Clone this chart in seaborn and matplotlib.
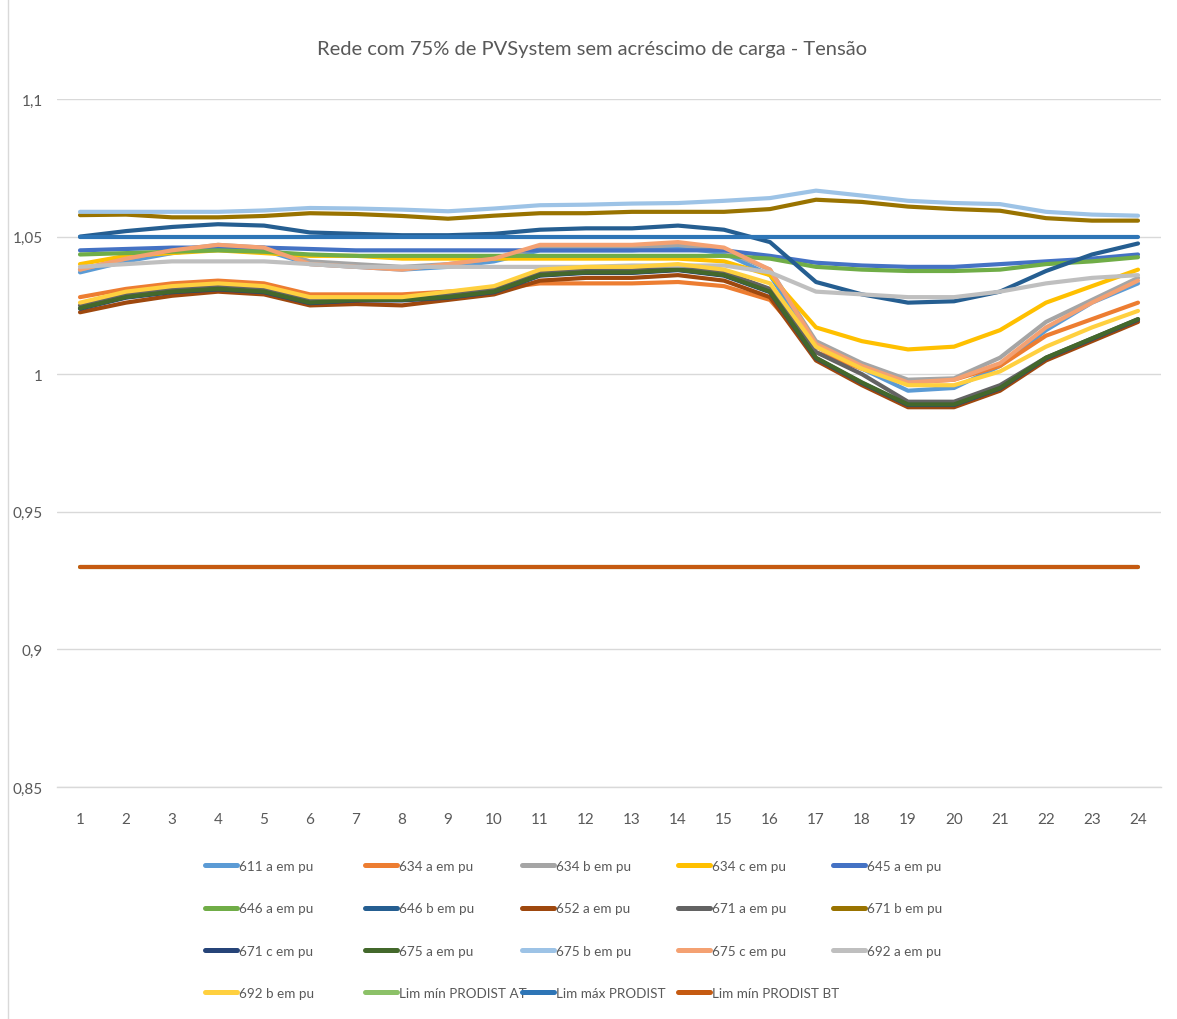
import numpy as np
import pandas as pd
import matplotlib
matplotlib.use("Agg")
import matplotlib.pyplot as plt
from matplotlib.lines import Line2D
import seaborn as sns

hours = list(range(1, 25))

s611a = [1.037, 1.041, 1.044, 1.046, 1.045, 1.040, 1.039, 1.038, 1.039, 1.041, 1.045, 1.045, 1.045, 1.046, 1.044, 1.036, 1.010, 1.002, 0.994, 0.995, 1.003, 1.016, 1.026, 1.033]
s634a = [1.028, 1.031, 1.033, 1.034, 1.033, 1.029, 1.029, 1.029, 1.030, 1.031, 1.033, 1.033, 1.033, 1.0335, 1.032, 1.027, 1.008, 1.002, 0.997, 0.998, 1.003, 1.014, 1.020, 1.026]
s634b = [1.038, 1.042, 1.045, 1.047, 1.046, 1.041, 1.040, 1.039, 1.040, 1.042, 1.046, 1.046, 1.046, 1.047, 1.045, 1.038, 1.012, 1.004, 0.998, 0.9985, 1.006, 1.019, 1.027, 1.035]
s634c = [1.040, 1.043, 1.044, 1.045, 1.044, 1.043, 1.043, 1.042, 1.042, 1.042, 1.042, 1.042, 1.042, 1.042, 1.041, 1.036, 1.017, 1.012, 1.009, 1.010, 1.016, 1.026, 1.032, 1.038]
s645a = [1.045, 1.0455, 1.046, 1.046, 1.046, 1.0455, 1.045, 1.045, 1.045, 1.045, 1.045, 1.045, 1.045, 1.045, 1.045, 1.043, 1.0405, 1.0395, 1.039, 1.039, 1.040, 1.041, 1.042, 1.0435]
s646a = [1.0435, 1.044, 1.0445, 1.045, 1.0445, 1.0435, 1.043, 1.043, 1.043, 1.043, 1.043, 1.043, 1.043, 1.043, 1.043, 1.042, 1.039, 1.038, 1.0375, 1.0375, 1.038, 1.040, 1.041, 1.0425]
s646b = [1.050, 1.052, 1.0535, 1.0545, 1.054, 1.0515, 1.051, 1.0505, 1.0505, 1.051, 1.0525, 1.053, 1.053, 1.054, 1.0525, 1.048, 1.0335, 1.029, 1.026, 1.0265, 1.030, 1.0375, 1.0435, 1.0475]
s652a = [1.0225, 1.026, 1.0285, 1.030, 1.029, 1.025, 1.0255, 1.025, 1.027, 1.029, 1.034, 1.035, 1.035, 1.036, 1.034, 1.028, 1.005, 0.996, 0.988, 0.988, 0.994, 1.005, 1.012, 1.019]
s671a = [1.025, 1.029, 1.031, 1.032, 1.031, 1.027, 1.027, 1.027, 1.029, 1.031, 1.037, 1.038, 1.038, 1.039, 1.037, 1.031, 1.008, 1.000, 0.990, 0.990, 0.996, 1.006, 1.013, 1.020]
s671b = [1.0578, 1.058, 1.057, 1.057, 1.0575, 1.0585, 1.0582, 1.0575, 1.0565, 1.0576, 1.0585, 1.0585, 1.059, 1.059, 1.059, 1.060, 1.0634, 1.0626, 1.0609, 1.060, 1.0594, 1.0567, 1.0558, 1.0558]
s671c = [1.0238, 1.0278, 1.0298, 1.0308, 1.0298, 1.0258, 1.0268, 1.0268, 1.0278, 1.0298, 1.0358, 1.0368, 1.0368, 1.0378, 1.0358, 1.0298, 1.0058, 0.9968, 0.9888, 0.9888, 0.9948, 1.0058, 1.0128, 1.0198]
s675a = [1.024, 1.028, 1.030, 1.031, 1.030, 1.026, 1.027, 1.027, 1.028, 1.030, 1.036, 1.037, 1.037, 1.038, 1.036, 1.030, 1.006, 0.997, 0.989, 0.989, 0.995, 1.006, 1.013, 1.020]
s675b = [1.059, 1.059, 1.059, 1.059, 1.0595, 1.0604, 1.0602, 1.0598, 1.0592, 1.0602, 1.0614, 1.0616, 1.062, 1.0622, 1.063, 1.064, 1.0667, 1.0649, 1.063, 1.0622, 1.0618, 1.059, 1.058, 1.0576]
s675c = [1.038, 1.042, 1.045, 1.047, 1.046, 1.040, 1.039, 1.038, 1.040, 1.042, 1.047, 1.047, 1.047, 1.048, 1.046, 1.038, 1.011, 1.003, 0.997, 0.998, 1.004, 1.017, 1.026, 1.034]
s692a = [1.039, 1.040, 1.041, 1.041, 1.041, 1.040, 1.039, 1.039, 1.039, 1.039, 1.039, 1.039, 1.0395, 1.0395, 1.0395, 1.037, 1.030, 1.029, 1.028, 1.028, 1.030, 1.033, 1.035, 1.036]
s692b = [1.026, 1.030, 1.032, 1.033, 1.032, 1.028, 1.028, 1.028, 1.030, 1.032, 1.038, 1.039, 1.039, 1.040, 1.038, 1.033, 1.010, 1.002, 0.996, 0.996, 1.001, 1.010, 1.017, 1.023]
lim_min_at = [0.93] * 24
lim_max = [1.05] * 24
lim_min_bt = [0.93] * 24

names = ["611 a em pu", "634 a em pu", "634 b em pu", "634 c em pu", "645 a em pu",
         "646 a em pu", "646 b em pu", "652 a em pu", "671 a em pu", "671 b em pu",
         "671 c em pu", "675 a em pu", "675 b em pu", "675 c em pu", "692 a em pu",
         "692 b em pu", "Lim mín PRODIST AT", "Lim máx PRODIST", "Lim mín PRODIST BT"]
series = [s611a, s634a, s634b, s634c, s645a, s646a, s646b, s652a, s671a, s671b,
          s671c, s675a, s675b, s675c, s692a, s692b, lim_min_at, lim_max, lim_min_bt]
colors = ["#5B9BD5", "#ED7D31", "#A5A5A5", "#FFC000", "#4472C4",
          "#70AD47", "#255E91", "#9E480E", "#636363", "#997300",
          "#264478", "#43682B", "#9DC3E6", "#F4A172", "#BFBFBF",
          "#FFD03F", "#8CC168", "#2E75B6", "#C55A11"]

df = pd.DataFrame({
    "hora": np.tile(hours, len(names)),
    "valor": np.concatenate([np.array(s, dtype=float) for s in series]),
    "serie": np.repeat(names, 24),
})

sns.set_theme(style="white")
plt.rcParams["font.family"] = ["Lato", "DejaVu Sans"]

fig = plt.figure(figsize=(11.77, 10.20), dpi=100)
ax = fig.add_axes([57 / 1177, 1 - 788 / 1020, (1161 - 57) / 1177, (788 - 100) / 1020])

palette = dict(zip(names, colors))
sns.lineplot(data=df, x="hora", y="valor", hue="serie", hue_order=names,
             palette=palette, linewidth=3.0, legend=False, ax=ax, sort=False,
             estimator=None, solid_capstyle="round")

ax.set_xlim(0.5, 24.5)
ax.set_ylim(0.85, 1.1)
ax.set_yticks([0.85, 0.9, 0.95, 1.0, 1.05, 1.1])
ax.set_yticklabels(["0,85", "0,9", "0,95", "1", "1,05", "1,1"])
ax.set_xticks(hours)
ax.set_xticklabels([str(h) for h in hours])
ax.tick_params(axis="y", labelsize=11, colors="#595959", length=0, pad=10)
ax.tick_params(axis="x", labelsize=11, colors="#595959", length=0, pad=18)
ax.set_xlabel("")
ax.set_ylabel("")
ax.grid(axis="y", color="#D9D9D9", linewidth=1)
ax.set_axisbelow(True)
for sp in ["left", "right", "top"]:
    ax.spines[sp].set_visible(False)
ax.spines["bottom"].set_color("#D9D9D9")
ax.spines["bottom"].set_linewidth(1)

fig.text(592 / 1177, 1 - 50 / 1020, "Rede com 75% de PVSystem sem acréscimo de carga - Tensão",
         ha="center", va="center", fontsize=14.5, color="#595959")

# border line on left
fig.add_artist(Line2D([8 / 1177, 8 / 1177], [0, 1], color="#D9D9D9", linewidth=1,
                      transform=fig.transFigure))

# legend: 5 equal-width columns, row-major like Excel
col_x = [205, 365, 522, 678, 833]
for c in range(5):
    idx = [i for i in range(c, len(names), 5)]
    handles = [Line2D([], [], color=colors[i], linewidth=3.6, solid_capstyle="round") for i in idx]
    labels = [names[i] for i in idx]
    fig.legend(handles, labels, loc="upper left",
               bbox_to_anchor=(col_x[c] / 1177, 1 - 861 / 1020),
               frameon=False, fontsize=9.7, handlelength=2.35, handletextpad=0.15,
               labelspacing=2.25, borderpad=0, borderaxespad=0, labelcolor="#595959")

fig.savefig("out.png", dpi=100)
